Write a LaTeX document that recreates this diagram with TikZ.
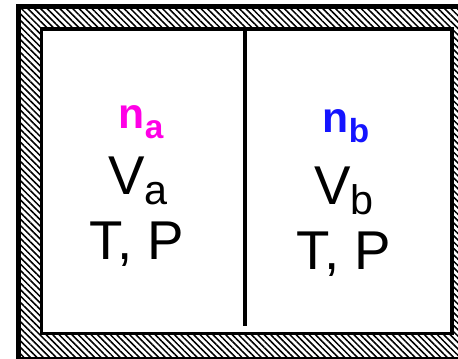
\documentclass[tikz,border=0pt]{standalone}
\usepackage{fontspec}
\setmainfont{Liberation Sans}
\usetikzlibrary{patterns.meta}
\definecolor{nmag}{RGB}{255,0,230}
\definecolor{nblue}{RGB}{20,20,255}
\newcommand{\bigfs}{\fontsize{41pt}{41pt}\selectfont}
\newcommand{\nfs}{\fontsize{32pt}{32pt}\selectfont\bfseries}
\newcommand{\nsub}[1]{\raisebox{-6.8pt}{\fontsize{25pt}{25pt}\selectfont\bfseries #1}}
\newcommand{\vsub}[1]{\raisebox{-7.5pt}{\fontsize{31pt}{31pt}\selectfont #1}}
\tikzset{
  hatch/.style={pattern={Lines[angle=-45,distance=3.4pt,line width=1.15pt]},pattern color=black},
  wallline/.style={line width=2.6pt,draw=black},
  divider/.style={line width=3.4pt,draw=black},
  lbl/.style={anchor=base,inner sep=0pt,text=black},
}
\begin{document}
\begin{tikzpicture}[x=0.75pt,y=-0.75pt]
\useasboundingbox (0,0) rectangle (458,359);
\clip (0,0) rectangle (458,359);
% outer wall
\fill[black] (16,4) rectangle (470,370);
\fill[white] (21,9) rectangle (470,357);
\fill[hatch] (21,9) rectangle (470,357);
% inner container
\filldraw[fill=white,wallline] (41.5,29) rectangle (452,333.5);
% divider
\coordinate (dtop) at (245,29);
\coordinate (dbot) at (245,326);
\draw[divider] (dtop) -- (dbot);
% left side
\node[lbl,text=nmag] (na) at (141,129) {\nfs n\nsub{a}};
\node[lbl] (va) at (138,195) {\bigfs V\vsub{a}};
\node[lbl] (tpa) at (137,260) {\bigfs T, P};
% right side
\node[lbl,text=nblue] (nb) at (346,133) {\nfs n\nsub{b}};
\node[lbl] (vb) at (344,205) {\bigfs V\vsub{b}};
\node[lbl] (tpb) at (344,270) {\bigfs T, P};
\end{tikzpicture}
\end{document}
